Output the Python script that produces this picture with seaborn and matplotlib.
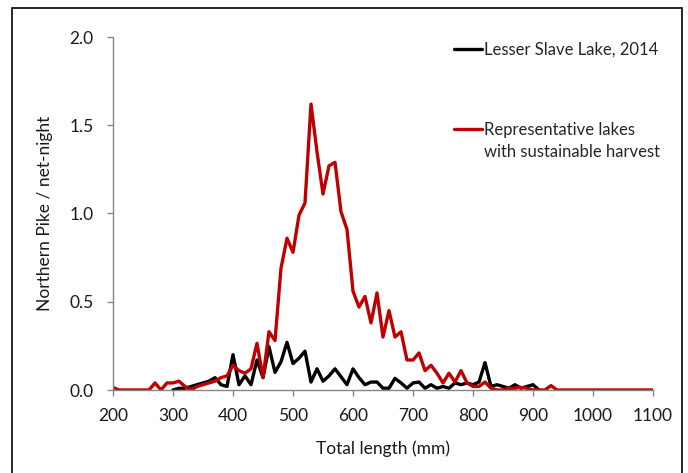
import numpy as np
import pandas as pd
import matplotlib
matplotlib.use("Agg")
import matplotlib.pyplot as plt
from matplotlib.patches import Rectangle
from matplotlib.lines import Line2D
import seaborn as sns

# Total length bins (mm)
red_lengths = list(range(200, 1110, 10))
black_lengths = list(range(300, 920, 10))

# Representative lakes with sustainable harvest (catch per net-night)
red_cpue = [0.015, 0, 0, 0, 0, 0, 0, 0.04, 0.0, 0.04,
            0.04, 0.05, 0.02, 0.0, 0.02, 0.03, 0.04, 0.05, 0.07, 0.08,
            0.14, 0.11, 0.095, 0.12, 0.265, 0.07, 0.33, 0.28, 0.69, 0.86,
            0.78, 0.99, 1.06, 1.62, 1.35, 1.11, 1.27, 1.29, 1.01, 0.91,
            0.56, 0.47, 0.53, 0.38, 0.55, 0.30, 0.45, 0.30, 0.33, 0.17,
            0.17, 0.21, 0.11, 0.14, 0.095, 0.04, 0.095, 0.045, 0.11, 0.04,
            0.02, 0.02, 0.045, 0.01, 0, 0, 0.01, 0.01, 0.015, 0.01,
            0, 0, 0, 0.025, 0, 0, 0, 0, 0, 0,
            0, 0, 0, 0, 0, 0, 0, 0, 0, 0,
            0]

# Lesser Slave Lake, 2014
black_cpue = [0.0, 0.01, 0.01, 0.02, 0.03, 0.04, 0.05, 0.07, 0.03, 0.02,
              0.20, 0.03, 0.08, 0.03, 0.17, 0.07, 0.245, 0.10, 0.16, 0.27,
              0.15, 0.18, 0.22, 0.045, 0.12, 0.05, 0.08, 0.12, 0.075, 0.03,
              0.12, 0.07, 0.03, 0.045, 0.045, 0.01, 0.01, 0.066, 0.04, 0.01,
              0.04, 0.045, 0.01, 0.03, 0.01, 0.02, 0.01, 0.04, 0.03, 0.04,
              0.03, 0.045, 0.155, 0.02, 0.03, 0.02, 0.01, 0.03, 0.01, 0.02,
              0.03, 0.0]

x_ticks = list(range(200, 1200, 100))
y_ticks = [0.0, 0.5, 1.0, 1.5, 2.0]

RED = "#C00000"
AXIS_GREY = "#868686"
TEXT = "#1a1a1a"

sns.set_style("ticks")
plt.rcParams["font.family"] = ["Lato", "DejaVu Sans"]

df_red = pd.DataFrame({"length": red_lengths, "cpue": red_cpue})
df_black = pd.DataFrame({"length": black_lengths, "cpue": black_cpue})

fig = plt.figure(figsize=(6.88, 4.73), dpi=100)
ax = fig.add_axes([113 / 688, 1 - 390 / 473, 540 / 688, 353 / 473])

sns.lineplot(data=df_black, x="length", y="cpue", color="black", lw=2.4, ax=ax)
sns.lineplot(data=df_red, x="length", y="cpue", color=RED, lw=2.4, ax=ax)

ax.set_xlim(200, 1100)
ax.set_ylim(0, 2.0)
ax.set_xticks(x_ticks)
ax.set_yticks(y_ticks)
ax.set_yticklabels([f"{v:.1f}" for v in y_ticks])
ax.tick_params(axis="both", direction="out", length=4.5, width=1, color=AXIS_GREY,
               labelsize=12.5, labelcolor=TEXT)
ax.tick_params(axis="x", pad=8.5)
ax.tick_params(axis="y", pad=9.5)
sns.despine(ax=ax)
for side in ["left", "bottom"]:
    ax.spines[side].set_color(AXIS_GREY)
    ax.spines[side].set_linewidth(1)

ax.set_xlabel("Total length (mm)", fontsize=12.5, color=TEXT, labelpad=12)
ax.set_ylabel("Northern Pike / net-night", fontsize=12.5, color=TEXT, labelpad=12)

# legends
h_black = [Line2D([], [], color="black", lw=2.4)]
leg1 = ax.legend(h_black, ["Lesser Slave Lake, 2014"], loc="upper left",
                 bbox_to_anchor=(0.62, 1.005), frameon=False, fontsize=12,
                 handlelength=1.65, handletextpad=0.1, borderaxespad=0)
ax.add_artist(leg1)
h_red = [Line2D([], [], color=RED, lw=2.4), Line2D([], [], color="none")]
ax.legend(h_red, ["Representative lakes", "with sustainable harvest"], loc="upper left",
          bbox_to_anchor=(0.62, 0.778), frameon=False, fontsize=12,
          handlelength=1.65, handletextpad=0.1, borderaxespad=0, labelspacing=0.35)

# outer chart border
fig.patches.append(Rectangle((12 / 688, -0.1), 670 / 688, 1 - 8 / 473 + 0.1,
                             transform=fig.transFigure, fill=False,
                             edgecolor="black", lw=1.2))

fig.savefig("out.png", dpi=100)
